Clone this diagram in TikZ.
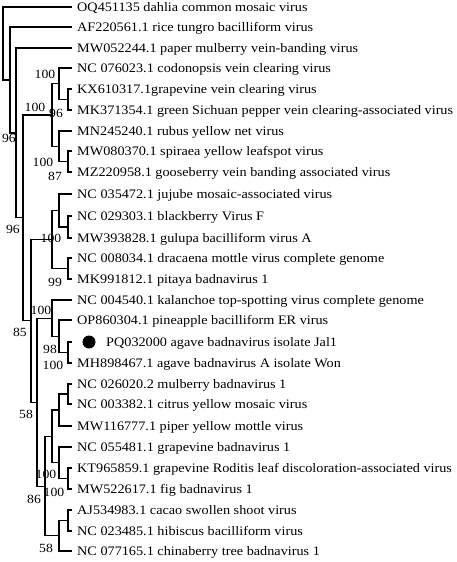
\documentclass[tikz,border=0pt]{standalone}
\usepackage{fontspec}
\setmainfont{Liberation Serif}[FakeStretch=1.095]
\usetikzlibrary{calc}
\newcommand\leafx[4]{\coordinate (t#1) at (72,#2); \node[leaf] (n#1) at (#3,{#2+4.3}) {#4};}
\newcommand\inode[4]{\path let \p1=($(#3)!.5!(#4)$) in coordinate (#1) at (#2pt,\y1); \draw[br] (#1) |- (#3); \draw[br] (#1) |- (#4);}
\begin{document}
\begin{tikzpicture}[x=1pt,y=-1pt,
  leaf/.style={anchor=base west,inner sep=0pt,font=\fontsize{13}{15}\selectfont},
  bs/.style={inner sep=0pt,font=\fontsize{12.5}{14}\selectfont},
  br/.style={draw=black,line width=1.1pt}]
\useasboundingbox (0,0) rectangle (457,562);
\leafx{1}{7}{77}{OQ451135 dahlia common mosaic virus}
\leafx{2}{27}{77}{AF220561.1 rice tungro bacilliform virus}
\leafx{3}{48}{77}{MW052244.1 paper mulberry vein-banding virus}
\leafx{4}{68}{77}{NC 076023.1 codonopsis vein clearing virus}
\leafx{5}{89}{77}{KX610317.1grapevine vein clearing virus}
\leafx{6}{110}{77}{MK371354.1 green Sichuan pepper vein clearing-associated virus}
\leafx{7}{131}{77}{MN245240.1 rubus yellow net virus}
\leafx{8}{151}{77}{MW080370.1 spiraea yellow leafspot virus}
\leafx{9}{172}{77}{MZ220958.1 gooseberry vein banding associated virus}
\leafx{10}{194}{77}{NC 035472.1 jujube mosaic-associated virus}
\leafx{11}{216}{77}{NC 029303.1 blackberry Virus F}
\leafx{12}{238}{77}{MW393828.1 gulupa bacilliform virus A}
\leafx{13}{258}{77}{NC 008034.1 dracaena mottle virus complete genome}
\leafx{14}{279}{77}{MK991812.1 pitaya badnavirus 1}
\leafx{15}{300}{77}{NC 004540.1 kalanchoe top-spotting virus complete genome}
\leafx{16}{320}{77}{OP860304.1 pineapple bacilliform ER virus}
\leafx{17}{342}{106}{PQ032000 agave badnavirus isolate Jal1}
\leafx{18}{363}{77}{MH898467.1 agave badnavirus A isolate Won}
\leafx{19}{384}{77}{NC 026020.2 mulberry badnavirus 1}
\leafx{20}{404}{77}{NC 003382.1 citrus yellow mosaic virus}
\leafx{21}{426}{77}{MW116777.1 piper yellow mottle virus}
\leafx{22}{447}{77}{NC 055481.1 grapevine badnavirus 1}
\leafx{23}{468}{77}{KT965859.1 grapevine Roditis leaf discoloration-associated virus}
\leafx{24}{489}{77}{MW522617.1 fig badnavirus 1}
\leafx{25}{510}{77}{AJ534983.1 cacao swollen shoot virus}
\leafx{26}{531}{77}{NC 023485.1 hibiscus bacilliform virus}
\leafx{27}{551}{77}{NC 077165.1 chinaberry tree badnavirus 1}
\node[circle,fill=black,inner sep=0pt,minimum size=13pt] (dot) at (89,342) {};
% internal nodes
\inode{vG}{68}{t5}{t6}
\inode{vE}{59}{t4}{vG}
\inode{vH}{68}{t8}{t9}
\inode{vF}{59}{t7}{vH}
\inode{vD}{52}{vE}{vF}
\inode{vL}{68}{t11}{t12}
\inode{vK}{59}{t10}{vL}
\inode{vM}{68}{t13}{t14}
\inode{vJ}{52}{vK}{vM}
\inode{vR}{68}{t17}{t18}
\inode{vQ}{59}{t16}{vR}
\inode{vO}{52}{t15}{vQ}
\inode{vV}{68}{t19}{t20}
\inode{vU}{59}{vV}{t21}
\inode{vX}{68}{t23}{t24}
\inode{vW}{59}{t22}{vX}
\inode{vS}{52}{vU}{vW}
\inode{vY}{68}{t25}{t26}
\inode{vT}{59}{vY}{t27}
\inode{vP}{45}{vS}{vT}
\inode{vN}{37}{vO}{vP}
\inode{vI}{31}{vJ}{vN}
\inode{vC}{23}{vD}{vI}
\inode{vB}{16}{t3}{vC}
\inode{vA}{10}{t2}{vB}
\inode{vRoot}{3}{t1}{vA}
% bootstrap labels
\node[bs] (b1) at (35,107) {100};
\node[bs] (b2) at (45,74) {100};
\node[bs] (b3) at (56,113) {96};
\node[bs] (b4) at (9,138) {96};
\node[bs] (b5) at (43,162) {100};
\node[bs] (b6) at (55,176) {87};
\node[bs] (b7) at (13,229) {96};
\node[bs] (b8) at (51,238) {100};
\node[bs] (b9) at (55,282) {99};
\node[bs] (b10) at (41,310) {100};
\node[bs] (b11) at (20,332) {85};
\node[bs] (b12) at (50,349) {98};
\node[bs] (b13) at (53,365) {100};
\node[bs] (b14) at (26,414) {58};
\node[bs] (b15) at (46,474) {100};
\node[bs] (b16) at (54,492) {100};
\node[bs] (b17) at (34,499) {86};
\node[bs] (b18) at (46,548) {58};
\end{tikzpicture}
\end{document}
